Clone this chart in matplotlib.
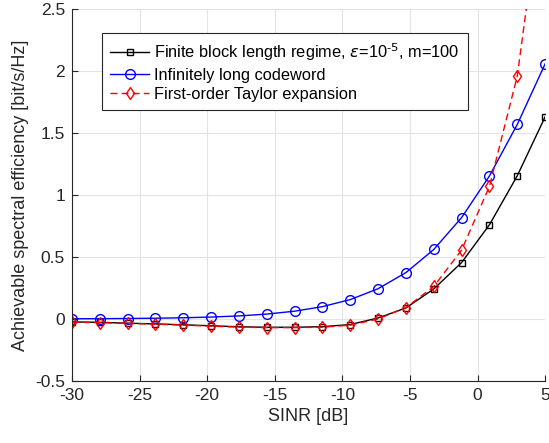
import matplotlib.pyplot as plt
import numpy as np

plt.rcParams['font.family'] = ['Liberation Sans', 'DejaVu Sans']
plt.rcParams['axes.unicode_minus'] = False
plt.rcParams['mathtext.fontset'] = 'custom'

# SINR grid (dB)
sinr_db = np.linspace(-30, 5, 18)

infinite = [0.0014, 0.0023, 0.0037, 0.0060, 0.0096, 0.0154, 0.0246, 0.0393,
            0.0626, 0.0994, 0.1563, 0.2441, 0.3740, 0.5605, 0.8176, 1.1535,
            1.5690, 2.0570]
finite = [-0.024, -0.027, -0.034, -0.040, -0.047, -0.055, -0.063, -0.067,
          -0.067, -0.062, -0.045, 0.008, 0.089, 0.242, 0.455, 0.760,
          1.155, 1.630]
taylor = [-0.026, -0.030, -0.036, -0.042, -0.050, -0.058, -0.066, -0.070,
          -0.070, -0.066, -0.050, 0.000, 0.092, 0.262, 0.556, 1.070,
          1.960, 3.640]

fig = plt.figure(figsize=(5.49, 4.43), dpi=100)
ax = fig.add_axes([0.131, 0.140, 0.862, 0.840])

ax.plot(sinr_db, finite, '-s', color='black', lw=1, ms=5, mfc='none',
        mew=1,
        label=r'Finite block length regime, $\epsilon$=10$^{\text{-5}}$, m=100')
ax.plot(sinr_db, infinite, '-o', color='blue', lw=1, ms=7, mfc='none',
        mew=1, label='Infinitely long codeword')
ax.plot(sinr_db, taylor, '--d', color='red', lw=1, ms=6.5, mfc='none',
        mew=1, dashes=(5, 3), label='First-order Taylor expansion')

ax.set_xlim(-30, 5)
ax.set_ylim(-0.5, 2.5)
ax.set_xticks(np.arange(-30, 6, 5))
ax.set_yticks(np.arange(-0.5, 2.51, 0.5))
ax.set_yticklabels(['-0.5', '0', '0.5', '1', '1.5', '2', '2.5'])
ax.grid(True, color='#e3e3e3', lw=0.8)
ax.set_axisbelow(True)
for s in ['top', 'right']:
    ax.spines[s].set_visible(False)
for s in ['left', 'bottom']:
    ax.spines[s].set_color('#262626')
    ax.spines[s].set_linewidth(0.8)
ax.tick_params(direction='in', length=4, labelsize=12.5, colors='#262626',
               pad=5)

ax.set_xlabel('SINR [dB]', fontsize=13, color='#262626')
ax.set_ylabel('Achievable spectral efficiency [bit/s/Hz]', fontsize=13,
              color='#262626')

leg = ax.legend(loc='upper left', bbox_to_anchor=(0.063, 0.935), fontsize=11.8,
                fancybox=False, framealpha=1, edgecolor='#262626',
                handlelength=2.4, handletextpad=0.3, borderpad=0.5,
                labelspacing=0.28, borderaxespad=0)
leg.get_frame().set_linewidth(0.8)

fig.savefig('out.png', dpi=100)
